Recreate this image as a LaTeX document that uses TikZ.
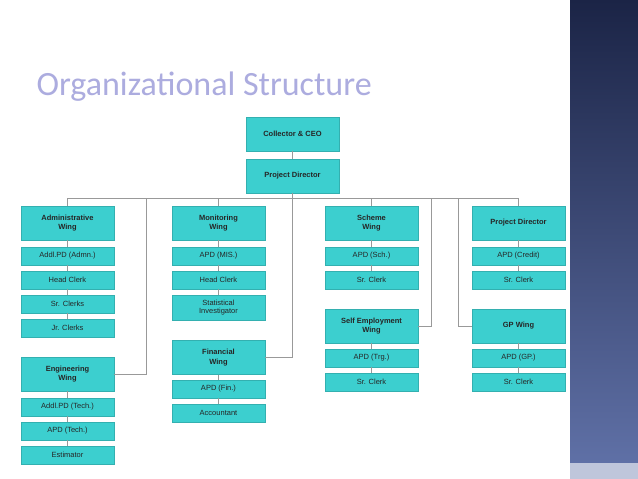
\documentclass[tikz,border=0pt]{standalone}
\usepackage{fontspec}
\setmainfont{Liberation Sans}
\newfontfamily\titlefont{Carlito}
\begin{document}
\begin{tikzpicture}[x=1pt,y=-1pt,
  bx/.style={fill=boxc,draw=boxc!85!black,line width=0.3pt,inner sep=0pt,text=black!85,font=\fontsize{7.5}{8.5}\selectfont,align=center,minimum width=93pt},
  sm/.style={bx,minimum height=18pt},
  bg/.style={bx,minimum height=34pt,font=\bfseries\fontsize{7.5}{9.5}\selectfont},
  ln/.style={draw=gray!80,line width=0.8pt}]
\definecolor{boxc}{HTML}{3CCFCF}
\definecolor{pnl1}{HTML}{1B2446}
\definecolor{pnl2}{HTML}{5F70A6}
\useasboundingbox (0,0) rectangle (638,479);
\fill[white] (0,0) rectangle (638,479);
\shade[top color=pnl1,bottom color=pnl2] (570,0) rectangle (638,463);
\fill[pnl2!40!white] (570,463) rectangle (638,479);
\node[anchor=base west,font=\titlefont\fontsize{34}{36}\selectfont,text=gray!55!blue!45] (title) at (33,95) {Organizational Structure};
% top
\node[bg] (ceo) at (292.5,134) {Collector \& CEO};
\node[bg] (pd) at (292.5,176) {Project Director};
% col1
\node[bg] (adm) at (67.5,223) {Administrative\\Wing};
\node[sm] (a1) at (67.5,256) {Addl.PD (Admn.)};
\node[sm] (a2) at (67.5,280) {Head Clerk};
\node[sm] (a3) at (67.5,304) {Sr. Clerks};
\node[sm] (a4) at (67.5,328) {Jr. Clerks};
\node[bg] (eng) at (67.5,374) {Engineering\\Wing};
\node[sm] (e1) at (67.5,407) {Addl.PD (Tech.)};
\node[sm] (e2) at (67.5,431) {APD (Tech.)};
\node[sm] (e3) at (67.5,455) {Estimator};
% col2
\node[bg] (mon) at (218.5,223) {Monitoring\\Wing};
\node[sm] (m1) at (218.5,256) {APD (MIS.)};
\node[sm] (m2) at (218.5,280) {Head Clerk};
\node[bx,minimum height=25pt] (m3) at (218.5,307.5) {Statistical\\Investigator};
\node[bg] (fin) at (218.5,357.5) {Financial\\Wing};
\node[sm] (f1) at (218.5,389) {APD (Fin.)};
\node[sm] (f2) at (218.5,413) {Accountant};
% col3
\node[bg] (sch) at (371.5,223) {Scheme\\Wing};
\node[sm] (s1) at (371.5,256) {APD (Sch.)};
\node[sm] (s2) at (371.5,280) {Sr. Clerk};
\node[bg] (se) at (371.5,326) {Self Employment\\Wing};
\node[sm] (t1) at (371.5,358) {APD (Trg.)};
\node[sm] (t2) at (371.5,382) {Sr. Clerk};
% col4
\node[bg] (pd2) at (518.5,223) {Project Director};
\node[sm] (p1) at (518.5,256) {APD (Credit)};
\node[sm] (p2) at (518.5,280) {Sr. Clerk};
\node[bg] (gp) at (518.5,326) {GP Wing};
\node[sm] (g1) at (518.5,358) {APD (GP.)};
\node[sm] (g2) at (518.5,382) {Sr. Clerk};
% connectors
\coordinate (hl) at (67.5,198);
\coordinate (hr) at (518.5,198);
\begin{scope}[on background layer/.style={}]
\draw[ln] (ceo) -- (pd);
\draw[ln] (pd.south) -- (292.5,198);
\draw[ln] (hl) -- (hr);
\draw[ln] (hl) -- (adm.north);
\draw[ln] (218.5,198) -- (mon.north);
\draw[ln] (371.5,198) -- (sch.north);
\draw[ln] (hr) -- (pd2.north);
\draw[ln] (146,198) |- (eng.east);
\draw[ln] (292.5,198) |- (fin.east);
\draw[ln] (431,198) |- (se.east);
\draw[ln] (458,198) |- (gp.west);
\foreach \u/\v in {adm/a1,a1/a2,a2/a3,a3/a4,eng/e1,e1/e2,e2/e3,mon/m1,m1/m2,m2/m3,fin/f1,f1/f2,sch/s1,s1/s2,se/t1,t1/t2,pd2/p1,p1/p2,gp/g1,g1/g2}
  \draw[ln] (\u.south) -- (\v.north);
\end{scope}
\end{tikzpicture}
\end{document}
